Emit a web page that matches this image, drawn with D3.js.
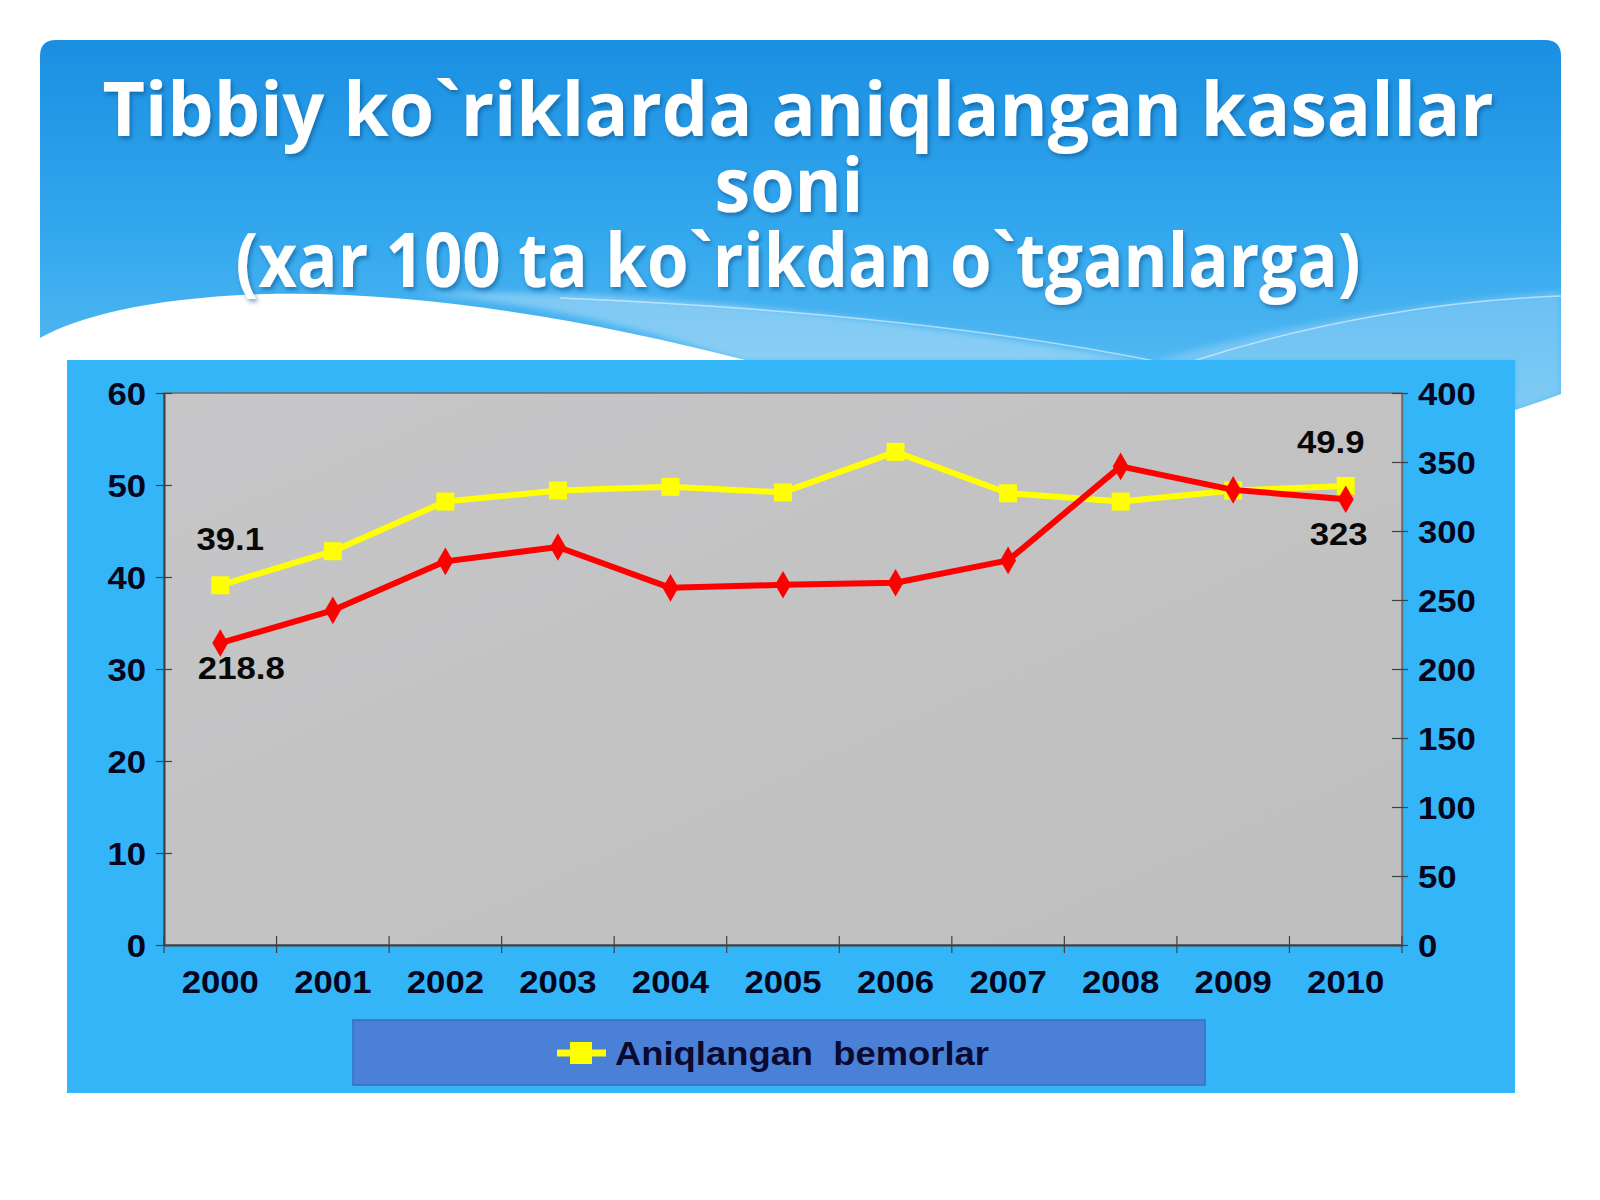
<!DOCTYPE html>
<html>
<head>
<meta charset="utf-8">
<script src="https://cdn.jsdelivr.net/npm/d3@7/dist/d3.min.js"></script>
<style>
  html, body { margin: 0; padding: 0; background: #ffffff; }
  svg { display: block; }
  text { white-space: pre; }
</style>
</head>
<body>
<svg id="chart" width="1600" height="1200"></svg>
<script>
// ---------- DATA ----------
const years = ["2000","2001","2002","2003","2004","2005","2006","2007","2008","2009","2010"];
const detectedPer100 = [39.1, 42.8, 48.2, 49.4, 49.8, 49.2, 53.6, 49.1, 48.2, 49.4, 49.9]; // yellow, left axis
const casesRed = [218.8, 242.5, 278, 288.4, 258.8, 261, 262.5, 278.7, 346.8, 329.8, 323]; // red, right axis
const leftTicks = [0, 10, 20, 30, 40, 50, 60];
const rightTicks = [0, 50, 100, 150, 200, 250, 300, 350, 400];
const titleLines = ["Tibbiy ko`riklarda aniqlangan kasallar", "soni", "(xar 100 ta ko`rikdan o`tganlarga)"];
const legendLabel = "Aniqlangan  bemorlar";

// ---------- DRAW ----------
const svg = d3.select("#chart");
const defs = svg.append("defs");

const hg = defs.append("linearGradient").attr("id","hdr").attr("x1",0).attr("y1",0).attr("x2",0).attr("y2",1);
hg.append("stop").attr("offset","0%").attr("stop-color","#1a8fe2");
hg.append("stop").attr("offset","55%").attr("stop-color","#35a9ee");
hg.append("stop").attr("offset","100%").attr("stop-color","#5cbdf2");

const pg = defs.append("linearGradient").attr("id","plotbg").attr("x1",0).attr("y1",0).attr("x2",1).attr("y2",1);
pg.append("stop").attr("offset","0%").attr("stop-color","#c6c6c8");
pg.append("stop").attr("offset","100%").attr("stop-color","#bfbfbf");

const sh = defs.append("filter").attr("id","tshadow").attr("x","-5%").attr("y","-20%").attr("width","110%").attr("height","140%");
sh.append("feDropShadow").attr("dx",2).attr("dy",3).attr("stdDeviation",2).attr("flood-color","#0a3a70").attr("flood-opacity",0.45);

const blur = defs.append("filter").attr("id","soft");
blur.append("feGaussianBlur").attr("stdDeviation",3);

// header shape
svg.append("path")
  .attr("d","M40,56 Q40,40 56,40 L1545,40 Q1561,40 1561,56 L1561,394 Q1540,402 1515,410 L745,410 L745,360 C600,322 420,290 265,294 C150,298 80,316 40,338 Z")
  .attr("fill","url(#hdr)");
// light wave bands
svg.append("path")
  .attr("d","M420,294 C620,286 900,318 1150,362 L745,362 C640,328 540,303 420,294 Z")
  .attr("fill","#ffffff").attr("opacity",0.32).attr("filter","url(#soft)");
svg.append("path")
  .attr("d","M1150,362 C1300,320 1450,300 1561,292 L1561,394 Q1540,402 1515,410 L1515,362 Z")
  .attr("fill","#ffffff").attr("opacity",0.22).attr("filter","url(#soft)");
svg.append("path")
  .attr("d","M560,298 C800,308 1000,330 1160,362")
  .attr("fill","none").attr("stroke","#ffffff").attr("stroke-width",1.5).attr("opacity",0.5);
svg.append("path")
  .attr("d","M1190,362 C1320,320 1450,300 1561,296")
  .attr("fill","none").attr("stroke","#ffffff").attr("stroke-width",1.5).attr("opacity",0.5);

// title
const titleG = svg.append("g").attr("filter","url(#tshadow)")
  .attr("font-family","'Open Sans', 'Noto Sans', sans-serif").attr("font-weight","bold")
  .attr("fill","#ffffff").attr("text-anchor","middle").attr("font-size",76);
const titleBase = [136, 212, 287];
const titleX = [798, 789, 798];
const titleLen = [1391, 149, 1125];
titleLines.forEach((t,i) => {
  titleG.append("text").attr("x",titleX[i]).attr("y",titleBase[i])
    .attr("textLength",titleLen[i]).attr("lengthAdjust","spacingAndGlyphs").text(t);
});

// chart panel
svg.append("rect").attr("x",67).attr("y",360).attr("width",1448).attr("height",733).attr("fill","#33b5f7");

// plot area
const plot = {left:164, right:1402, top:393, bottom:945};
svg.append("rect").attr("x",plot.left).attr("y",plot.top)
  .attr("width",plot.right-plot.left).attr("height",plot.bottom-plot.top)
  .attr("fill","url(#plotbg)").attr("stroke","#6e6e6e").attr("stroke-width",1.5);

const x = d3.scaleBand().domain(years).range([plot.left, plot.right]).padding(0);
const yL = d3.scaleLinear().domain([0,60]).range([plot.bottom, plot.top]);
const yR = d3.scaleLinear().domain([0,400]).range([plot.bottom, plot.top]);
const cx = d => x(d) + x.bandwidth()/2;

const fontAxis = "'Liberation Sans', Arial, sans-serif";
const tickColor = "#05051e";

// left axis
const gL = svg.append("g").attr("transform",`translate(${plot.left},0)`)
  .call(d3.axisLeft(yL).tickValues(leftTicks).tickSizeInner(10).tickSizeOuter(0).tickPadding(10));
gL.select(".domain").attr("stroke","#404040").attr("stroke-width",2);
gL.selectAll(".tick line").attr("stroke","#404040").attr("x2",8).attr("x1",-8).attr("stroke-width",1.2);
gL.selectAll(".tick text").attr("font-family",fontAxis).attr("font-weight","bold").attr("font-size",31)
  .attr("fill",tickColor).attr("x",-18).attr("dy","0.36em").classed("wide",true);

// right axis
const gR = svg.append("g").attr("transform",`translate(${plot.right},0)`)
  .call(d3.axisRight(yR).tickValues(rightTicks).tickSizeInner(10).tickSizeOuter(0).tickPadding(10));
gR.select(".domain").attr("stroke","#6e6e6e").attr("stroke-width",1.5);
gR.selectAll(".tick line").attr("stroke","#404040").attr("x1",-10).attr("x2",6).attr("stroke-width",1.2);
gR.selectAll(".tick text").attr("font-family",fontAxis).attr("font-weight","bold").attr("font-size",31)
  .attr("fill",tickColor).attr("x",16).attr("dy","0.36em").classed("wide",true);

// bottom axis
const gB = svg.append("g").attr("transform",`translate(0,${plot.bottom})`)
  .call(d3.axisBottom(x).tickSize(0).tickPadding(0));
gB.select(".domain").attr("stroke","#404040").attr("stroke-width",2);
gB.selectAll(".tick text").attr("font-family",fontAxis).attr("font-weight","bold").attr("font-size",31)
  .attr("fill",tickColor).attr("y",48).attr("dy",0).classed("wide",true);
// category boundary ticks
svg.append("g").selectAll("line").data(years.concat(["end"])).join("line")
  .attr("x1",(d,i)=> i < years.length ? x(d) : plot.right)
  .attr("x2",(d,i)=> i < years.length ? x(d) : plot.right)
  .attr("y1",plot.bottom-9).attr("y2",plot.bottom+8)
  .attr("stroke","#404040").attr("stroke-width",1.2);

// lines
const lineL = d3.line().x((d,i)=>cx(years[i])).y(d=>yL(d));
const lineR = d3.line().x((d,i)=>cx(years[i])).y(d=>yR(d));

svg.append("path").datum(detectedPer100).attr("d",lineL)
  .attr("fill","none").attr("stroke","#ffff00").attr("stroke-width",6).attr("stroke-linejoin","round");
svg.append("g").selectAll("rect").data(detectedPer100).join("rect")
  .attr("x",(d,i)=>cx(years[i])-9).attr("y",d=>yL(d)-9)
  .attr("width",18).attr("height",18).attr("fill","#ffff00");

svg.append("path").datum(casesRed).attr("d",lineR)
  .attr("fill","none").attr("stroke","#ff0000").attr("stroke-width",6).attr("stroke-linejoin","round");
svg.append("g").selectAll("path").data(casesRed).join("path")
  .attr("d",d3.symbol().type(d3.symbolDiamond).size(220))
  .attr("transform",(d,i)=>`translate(${cx(years[i])},${yR(d)})`)
  .attr("fill","#ff0000");

// data labels
const lbl = svg.append("g").attr("font-family",fontAxis).attr("font-weight","bold")
  .attr("font-size",31).attr("fill","#080808").attr("text-anchor","middle");
const last = years.length - 1;
lbl.append("text").attr("x",cx(years[0])+10).attr("y",yL(detectedPer100[0])-46).attr("dy","0.36em").text(detectedPer100[0].toFixed(1)).classed("wide",true);
lbl.append("text").attr("x",cx(years[0])+21).attr("y",yR(casesRed[0])+25).attr("dy","0.36em").text(casesRed[0].toFixed(1)).classed("wide",true);
lbl.append("text").attr("x",cx(years[last])-15).attr("y",yL(detectedPer100[last])-44).attr("dy","0.36em").text(detectedPer100[last].toFixed(1)).classed("wide",true);
lbl.append("text").attr("x",cx(years[last])-7).attr("y",yR(casesRed[last])+35).attr("dy","0.36em").text(String(casesRed[last])).classed("wide",true);

// legend
svg.append("rect").attr("x",353).attr("y",1020).attr("width",852).attr("height",65)
  .attr("fill","#4a80d6").attr("stroke","#3a6cc0").attr("stroke-width",1.5);
svg.append("line").attr("x1",557).attr("x2",606).attr("y1",1053).attr("y2",1053)
  .attr("stroke","#ffff00").attr("stroke-width",7);
svg.append("rect").attr("x",570).attr("y",1042).attr("width",22).attr("height",22).attr("fill","#ffff00");
svg.append("text").attr("x",615).attr("y",1065).attr("font-family",fontAxis).attr("font-weight","bold")
  .attr("font-size",33).attr("fill","#0a0a30").text(legendLabel)
  .attr("textLength",374).attr("lengthAdjust","spacingAndGlyphs");

// widen the Arial-like glyphs horizontally to match the reference rendering
svg.selectAll("text.wide").each(function(){
  const w = this.getComputedTextLength();
  d3.select(this).attr("textLength", w*1.12).attr("lengthAdjust","spacingAndGlyphs");
});
</script>
</body>
</html>
